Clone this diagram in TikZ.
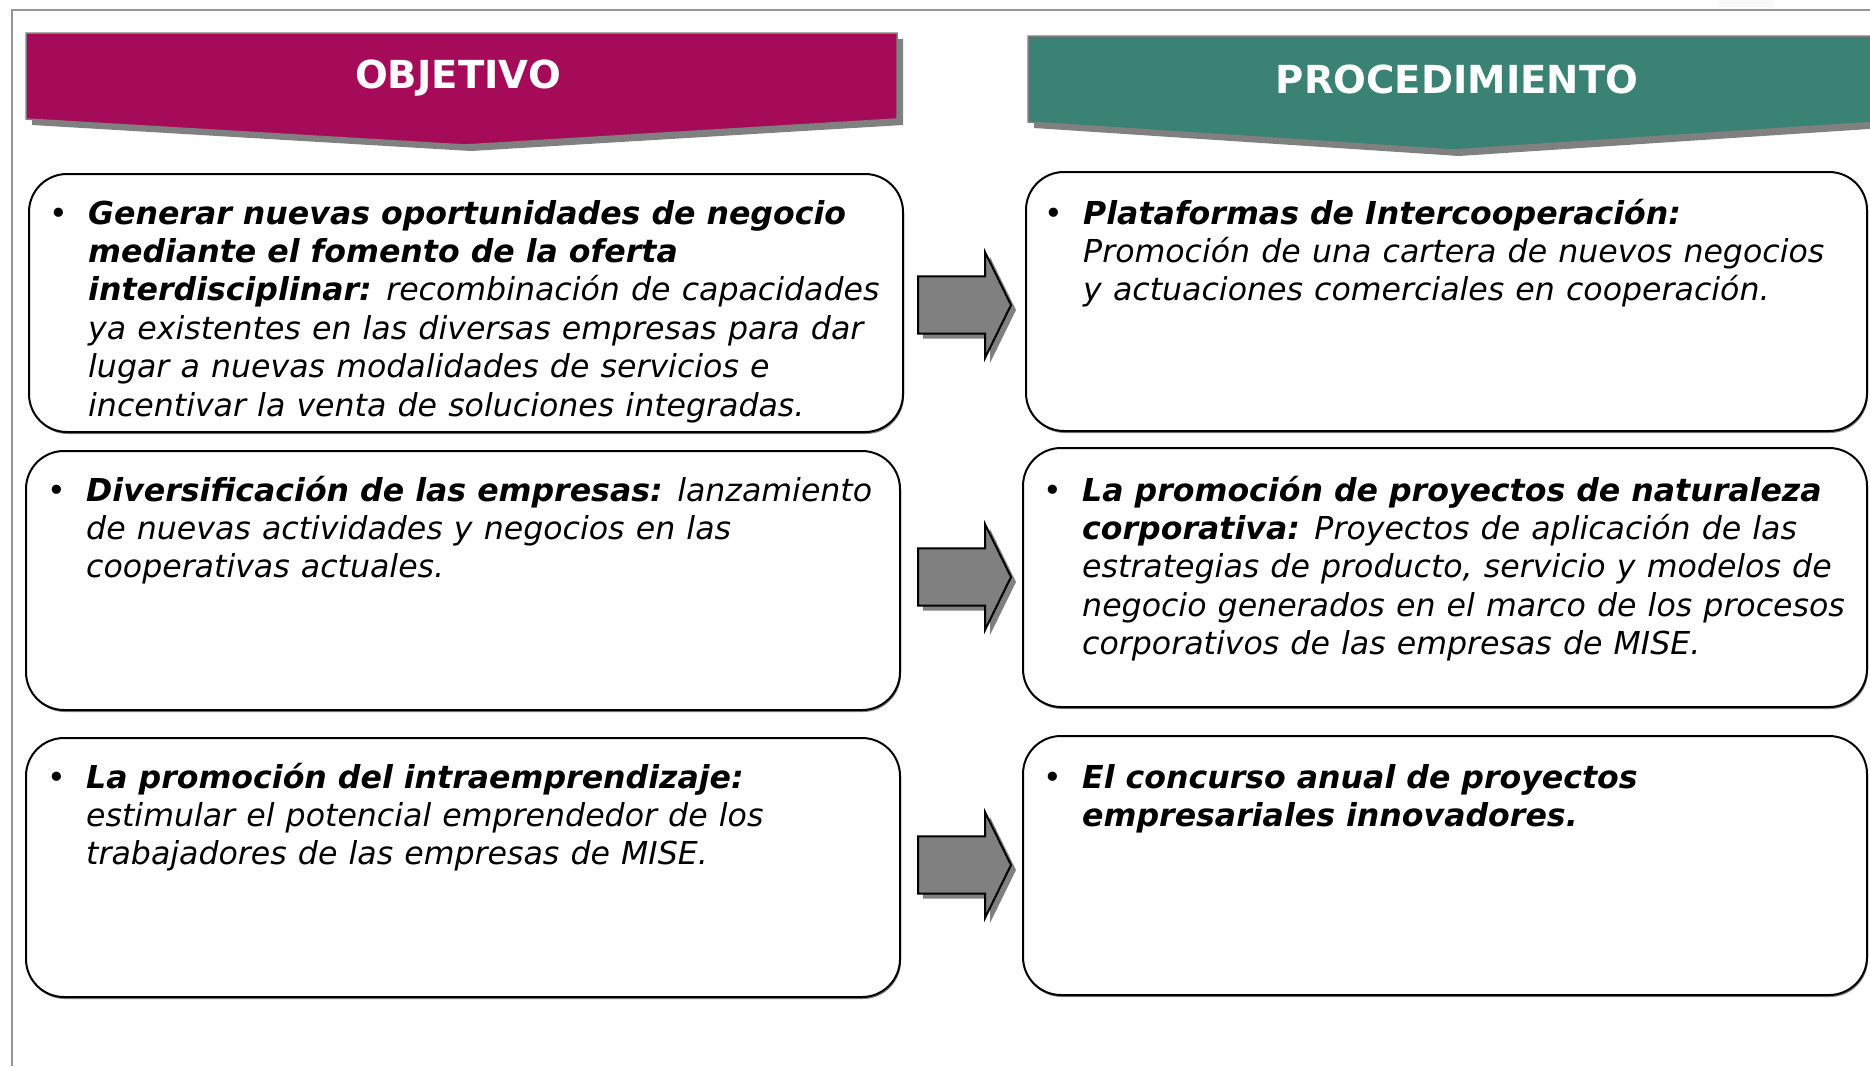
\documentclass[tikz,border=0pt]{standalone}
\usepackage{fontspec}
\setmainfont{DejaVu Sans}[ItalicFeatures={WordSpace=1.11}]
\usetikzlibrary{shadows}
\definecolor{objcol}{RGB}{166,11,90}
\definecolor{proccol}{RGB}{57,130,116}
\definecolor{shadowgray}{RGB}{128,128,128}
\definecolor{framegray}{RGB}{150,150,150}
\tikzset{
  box/.style={draw=black, line width=2pt, fill=white, rounded corners=38pt, inner sep=0pt,
    drop shadow={shadow xshift=1pt, shadow yshift=-2pt, fill=shadowgray, opacity=1}},
  boxtext/.style={anchor=north west, inner sep=0pt, align=left,
    font=\fontsize{31.6}{38.4}\selectfont\itshape},
  headtext/.style={text=white, inner sep=0pt, font=\fontsize{38.6}{40}\selectfont\bfseries},
  headshadow/.style={fill=shadowgray, draw=none},
  blockarrow/.style={fill=shadowgray, draw=black, line width=2pt, line join=miter},
}
\newcommand{\bul}{\llap{\textup{•}\hspace{20pt}}}
\begin{document}
\begin{tikzpicture}[x=1pt,y=-1pt]
\useasboundingbox (0,0) rectangle (1870,1066);
\fill[white] (0,0) rectangle (1870,1066);
% frame
\draw[framegray, line width=2pt] (12,1066) -- (12,9.5) -- (1870,9.5);
\fill[gray!5] (1718,0) rectangle (1773,7);
% headers
\fill[headshadow] (32,39) -- (903,39) -- (903,125) -- (471,151) -- (32,125) -- cycle;
\filldraw[fill=objcol, draw=shadowgray, line width=1.5pt] (26,33) -- (897,33) -- (897,119) -- (465,145) -- (26,119) -- cycle;
\node[headtext] (hobj) at (458,78.5) {OBJETIVO};
\fill[headshadow] (1034,42) -- (1884,42) -- (1884,128) -- (1459,156) -- (1034,128) -- cycle;
\filldraw[fill=proccol, draw=shadowgray, line width=1.5pt] (1028,36) -- (1878,36) -- (1878,122) -- (1453,150) -- (1028,122) -- cycle;
\node[headtext] (hproc) at (1457,79) {PROCEDIMIENTO};
% boxes
\node[box, minimum width=874pt, minimum height=258pt] (L1) at (466,303) {};
\node[box, minimum width=874pt, minimum height=259pt] (L2) at (463,580.5) {};
\node[box, minimum width=874pt, minimum height=259pt] (L3) at (463,867.5) {};
\node[box, minimum width=841pt, minimum height=259pt] (R1) at (1446.5,301.5) {};
\node[box, minimum width=844pt, minimum height=259pt] (R2) at (1445,577.5) {};
\node[box, minimum width=844pt, minimum height=259pt] (R3) at (1445,865.5) {};
% arrows
\foreach \c in {305,577,865}{
  \fill[shadowgray] (923,\c-23.6) -- (990,\c-23.6) -- (990,\c-48) -- (1016,\c+5) -- (990,\c+58) -- (990,\c+33.6) -- (923,\c+33.6) -- cycle;
  \filldraw[blockarrow] (918,\c-28.6) -- (985,\c-28.6) -- (985,\c-53) -- (1011,\c) -- (985,\c+53) -- (985,\c+28.6) -- (918,\c+28.6) -- cycle;
}
% texts
\node[boxtext] (tL1) at (88,197) {\strut\bul\textbf{Generar nuevas oportunidades de negocio}\\
\textbf{mediante el fomento de la oferta}\\
\textbf{interdisciplinar:} recombinación de capacidades\\
ya existentes en las diversas empresas para dar\\
lugar a nuevas modalidades de servicios e\\
incentivar la venta de soluciones integradas.};
\node[boxtext] (tL2) at (86,474) {\strut\bul\textbf{Diversificación de las empresas:} lanzamiento\\
de nuevas actividades y negocios en las\\
cooperativas actuales.};
\node[boxtext] (tL3) at (86,761) {\strut\bul\textbf{La promoción del intraemprendizaje:}\\
estimular el potencial emprendedor de los\\
trabajadores de las empresas de MISE.};
\node[boxtext] (tR1) at (1083,197) {\strut\bul\textbf{Plataformas de Intercooperación:}\\
Promoción de una cartera de nuevos negocios\\
y actuaciones comerciales en cooperación.};
\node[boxtext] (tR2) at (1082,474) {\strut\bul\textbf{La promoción de proyectos de naturaleza}\\
\textbf{corporativa:} Proyectos de aplicación de las\\
estrategias de producto, servicio y modelos de\\
negocio generados en el marco de los procesos\\
corporativos de las empresas de MISE.};
\node[boxtext] (tR3) at (1082,761) {\strut\bul\textbf{El concurso anual de proyectos}\\
\textbf{empresariales innovadores.}};
\end{tikzpicture}
\end{document}
